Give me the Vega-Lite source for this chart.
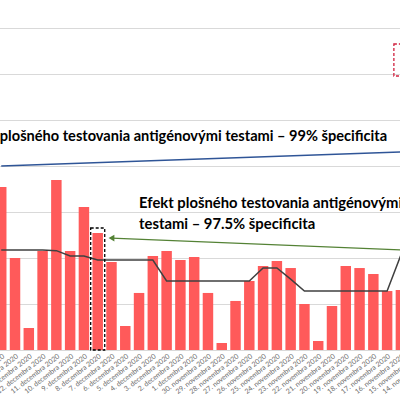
{
  "$schema": "https://vega.github.io/schema/vega-lite/v6.json",
  "width": 400,
  "height": 350,
  "autosize": "none",
  "padding": {"left": 0, "top": 0, "right": 0, "bottom": 50},
  "background": "white",
  "config": {"view": {"stroke": null}, "font": "Lato"},
  "datasets": {
    "daily": [
      {"date": "15. decembra 2020", "cases": 1772, "avg": 1087},
      {"date": "14. decembra 2020", "cases": 1000, "avg": 1087},
      {"date": "13. decembra 2020", "cases": 239, "avg": 1087},
      {"date": "12. decembra 2020", "cases": 1076, "avg": 1087},
      {"date": "11. decembra 2020", "cases": 1848, "avg": 1080},
      {"date": "10. decembra 2020", "cases": 1076, "avg": 1022},
      {"date": "9. decembra 2020", "cases": 1554, "avg": 1022},
      {"date": "8. decembra 2020", "cases": 1272, "avg": 978},
      {"date": "7. decembra 2020", "cases": 957, "avg": 978},
      {"date": "6. decembra 2020", "cases": 261, "avg": 978},
      {"date": "5. decembra 2020", "cases": 620, "avg": 978},
      {"date": "4. decembra 2020", "cases": 1022, "avg": 978},
      {"date": "3. decembra 2020", "cases": 1076, "avg": 750},
      {"date": "2. decembra 2020", "cases": 978, "avg": 750},
      {"date": "1. decembra 2020", "cases": 1011, "avg": 750},
      {"date": "30. novembra 2020", "cases": 620, "avg": 750},
      {"date": "29. novembra 2020", "cases": 76, "avg": 750},
      {"date": "28. novembra 2020", "cases": 533, "avg": 750},
      {"date": "27. novembra 2020", "cases": 750, "avg": 750},
      {"date": "26. novembra 2020", "cases": 913, "avg": 891},
      {"date": "25. novembra 2020", "cases": 967, "avg": 891},
      {"date": "24. novembra 2020", "cases": 891, "avg": 770},
      {"date": "23. novembra 2020", "cases": 500, "avg": 641},
      {"date": "22. novembra 2020", "cases": 98, "avg": 641},
      {"date": "21. novembra 2020", "cases": 478, "avg": 641},
      {"date": "20. novembra 2020", "cases": 913, "avg": 641},
      {"date": "19. novembra 2020", "cases": 891, "avg": 641},
      {"date": "18. novembra 2020", "cases": 826, "avg": 641},
      {"date": "17. novembra 2020", "cases": 641, "avg": 641},
      {"date": "16. novembra 2020", "cases": 652, "avg": 1033}
    ],
    "note99": [
      {"date": "17. novembra 2020", "v": 2315, "label": "Efekt plošného testovania antigénovými testami – 99% špecificita"}
    ],
    "note975": [
      {"date": "5. decembra 2020", "v": 1587, "label": "Efekt plošného testovania antigénovými"},
      {"date": "5. decembra 2020", "v": 1359, "label": "testami – 97.5% špecificita"}
    ],
    "blueLine": [
      {"date": "15. decembra 2020", "date2": "16. novembra 2020", "v": 2000, "v2": 2152}
    ],
    "greenArrow": [
      {"date": "7. decembra 2020", "date2": "16. novembra 2020", "v": 1217, "v2": 1087}
    ],
    "blackBox": [
      {"date": "8. decembra 2020", "v": 1326, "v2": 0}
    ],
    "redBox": [
      {"date": "16. novembra 2020", "v": 3326, "v2": 2978}
    ]
  },
  "layer": [
    {
      "data": {"name": "daily"},
      "mark": {"type": "bar", "color": "#FF5A5A"},
      "encoding": {
        "x": {
          "field": "date",
          "type": "nominal",
          "scale": {
            "domain": ["15. decembra 2020", "14. decembra 2020", "13. decembra 2020", "12. decembra 2020", "11. decembra 2020", "10. decembra 2020", "9. decembra 2020", "8. decembra 2020", "7. decembra 2020", "6. decembra 2020", "5. decembra 2020", "4. decembra 2020", "3. decembra 2020", "2. decembra 2020", "1. decembra 2020", "30. novembra 2020", "29. novembra 2020", "28. novembra 2020", "27. novembra 2020", "26. novembra 2020", "25. novembra 2020", "24. novembra 2020", "23. novembra 2020", "22. novembra 2020", "21. novembra 2020", "20. novembra 2020", "19. novembra 2020", "18. novembra 2020", "17. novembra 2020", "16. novembra 2020", "15. novembra 2020", "14. novembra 2020"],
            "range": [-4, 433.7],
            "paddingInner": 0.24,
            "paddingOuter": 0
          },
          "axis": {
            "title": null,
            "labelAngle": -38,
            "labelAlign": "right",
            "labelBaseline": "top",
            "labelFontSize": 7,
            "labelColor": "#6B6B6B",
            "labelFont": "Lato",
            "labelOverlap": false,
            "labelPadding": 2,
            "ticks": false,
            "domainColor": "#D9D9D9",
            "grid": false
          }
        },
        "y": {
          "field": "cases",
          "type": "quantitative",
          "scale": {"domain": [0, 3500], "range": [350, 28], "nice": false},
          "axis": {
            "title": null,
            "values": [0, 500, 1000, 1500, 2000, 2500, 3000, 3500],
            "labels": false,
            "ticks": false,
            "domain": false,
            "grid": true,
            "gridColor": "#D9D9D9",
            "gridWidth": 1
          }
        }
      }
    },
    {
      "data": {"name": "daily"},
      "mark": {"type": "line", "color": "#404040", "strokeWidth": 1.5},
      "encoding": {
        "x": {"field": "date", "type": "nominal", "sort": null},
        "y": {"field": "avg", "type": "quantitative"}
      }
    },
    {
      "data": {"name": "blackBox"},
      "mark": {"type": "bar", "filled": false, "stroke": "#000000", "strokeWidth": 1.3, "strokeDash": [3, 2], "width": {"band": 1.34}},
      "encoding": {
        "x": {"field": "date", "type": "nominal"},
        "y": {"field": "v", "type": "quantitative"},
        "y2": {"field": "v2"}
      }
    },
    {
      "data": {"name": "redBox"},
      "mark": {"type": "bar", "filled": false, "stroke": "#D0213F", "strokeWidth": 1.3, "strokeDash": [3, 2], "width": {"band": 1.34}},
      "encoding": {
        "x": {"field": "date", "type": "nominal"},
        "y": {"field": "v", "type": "quantitative"},
        "y2": {"field": "v2"}
      }
    },
    {
      "data": {"name": "blueLine"},
      "mark": {"type": "rule", "color": "#2F5597", "strokeWidth": 1.5},
      "encoding": {
        "x": {"field": "date", "type": "nominal", "bandPosition": 0.5},
        "x2": {"field": "date2", "bandPosition": 0.5},
        "y": {"field": "v", "type": "quantitative"},
        "y2": {"field": "v2"}
      }
    },
    {
      "data": {"name": "greenArrow"},
      "mark": {"type": "rule", "color": "#548235", "strokeWidth": 1.2},
      "encoding": {
        "x": {"field": "date", "type": "nominal", "bandPosition": 0.5},
        "x2": {"field": "date2", "bandPosition": 0.5},
        "y": {"field": "v", "type": "quantitative"},
        "y2": {"field": "v2"}
      }
    },
    {
      "data": {"name": "greenArrow"},
      "mark": {"type": "point", "shape": "triangle-left", "filled": true, "color": "#548235", "size": 45, "opacity": 1},
      "encoding": {
        "x": {"field": "date", "type": "nominal"},
        "y": {"field": "v", "type": "quantitative"}
      }
    },
    {
      "data": {"name": "note99"},
      "mark": {"type": "text", "align": "right", "baseline": "middle", "font": "Lato", "fontWeight": "bold", "fontSize": 14.6, "color": "#000000"},
      "encoding": {
        "x": {"field": "date", "type": "nominal"},
        "y": {"field": "v", "type": "quantitative"},
        "text": {"field": "label"}
      }
    },
    {
      "data": {"name": "note975"},
      "mark": {"type": "text", "align": "left", "baseline": "middle", "font": "Lato", "fontWeight": "bold", "fontSize": 14.8, "color": "#000000"},
      "encoding": {
        "x": {"field": "date", "type": "nominal"},
        "y": {"field": "v", "type": "quantitative"},
        "text": {"field": "label"}
      }
    }
  ]
}
